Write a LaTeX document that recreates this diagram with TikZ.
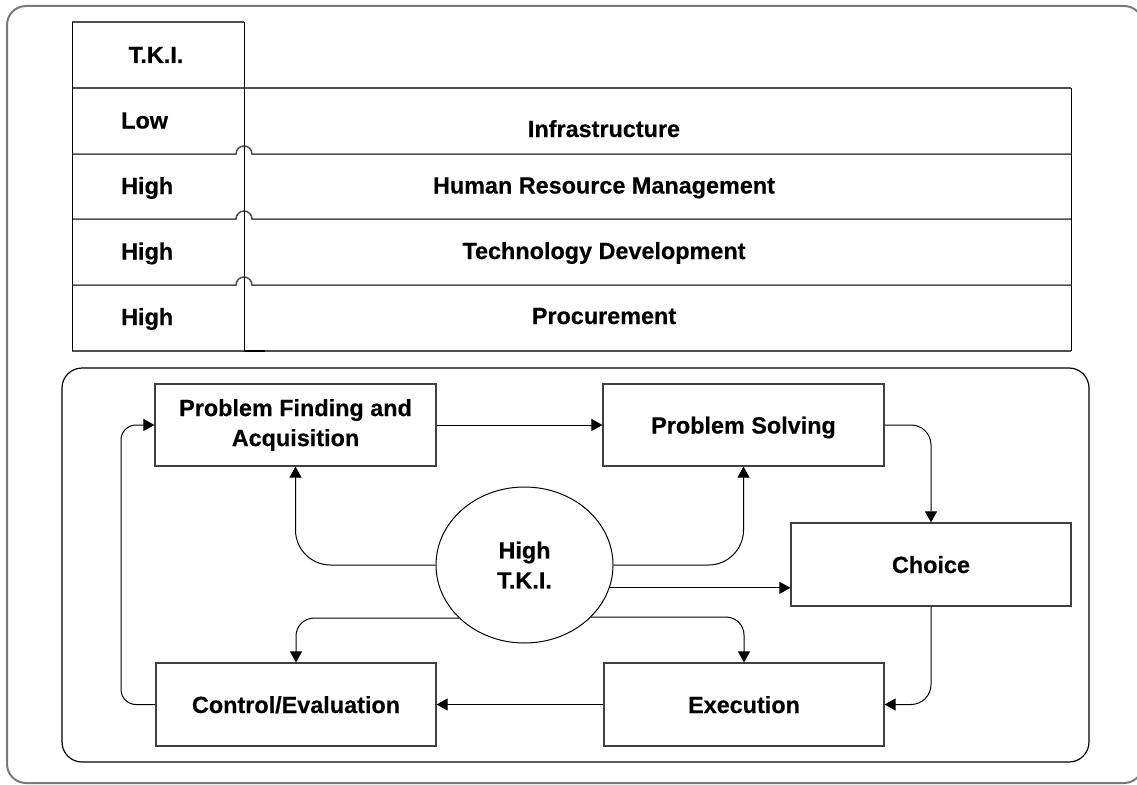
\documentclass[tikz,border=0pt]{standalone}
\usepackage{fontspec}
\setmainfont{Liberation Sans}[BoldFeatures={FakeBold=0.4}]
\usetikzlibrary{arrows.meta,shapes.geometric}
\definecolor{tblline}{HTML}{505050}
\definecolor{boxline}{HTML}{404040}
\definecolor{outerline}{HTML}{7A7A7A}
\begin{document}
\begin{tikzpicture}[x=1pt,y=-1pt,
  every node/.style={font=\bfseries\fontsize{23.4}{30}\selectfont, inner sep=0pt, text=black},
  box/.style={draw=boxline, line width=1.2pt, minimum width=281pt, minimum height=82pt, align=center},
  one/.style={text height=17pt, text depth=0pt},
  hline/.style={draw=tblline, line width=1.5pt},
  vline/.style={draw=black, line width=1pt},
  conn/.style={draw=black, line width=1pt, rounded corners=16pt, -{Triangle[length=11pt,width=12pt]}}]
\useasboundingbox (0,0) rectangle (1137,784);
% outer frame (its right side lies outside the picture)
\begin{scope}
\clip (0,0) rectangle (1137,784);
\draw[draw=outerline, line width=2pt, rounded corners=19pt] (7,6) rectangle (1143,783);
\end{scope}
% table
\draw[hline] (72,22) -- (244,22);
\draw[hline] (72,88) -- (1071,88);
\foreach \yy in {154,219,285}
  \draw[hline] (72,\yy) -- (236,\yy) arc[start angle=180, end angle=0, radius=8pt] -- (1071,\yy);
\draw[hline] (72,351) -- (1071,351);
\draw[vline] (72,22) -- (72,351);
\draw[vline] (244,22) -- (244,351);
\draw[vline] (1071,88) -- (1071,351);
\draw[draw=black, line width=2pt] (244,351) -- (265,351);
\node[anchor=base] (h0) at (156,63) {T.K.I.};
\node[anchor=base west] (h1) at (121,128.5) {Low};
\node[anchor=base west] (h2) at (121,194) {High};
\node[anchor=base west] (h3) at (121,259.5) {High};
\node[anchor=base west] (h4) at (121,325) {High};
\node[anchor=base] (r1) at (604,137) {Infrastructure};
\node[anchor=base] (r2) at (604,193.5) {Human Resource Management};
\node[anchor=base] (r3) at (604,259) {Technology Development};
\node[anchor=base] (r4) at (604,324) {Procurement};
% lower frame
\draw[draw=black, line width=1.2pt, rounded corners=20pt] (62,368) rectangle (1089,762);
\node[box] (pfa) at (295.5,425) {Problem Finding and\\Acquisition};
\node[box,one] (ps) at (743.5,425) {Problem Solving};
\node[box,one,minimum width=280pt,minimum height=83pt] (choice) at (931,564.5) {Choice};
\node[box,one,minimum width=280pt,minimum height=83pt] (exe) at (744,704.5) {Execution};
\node[box,one,minimum width=280pt,minimum height=83pt] (ctrl) at (296,704.5) {Control/Evaluation};
\node[draw=black, line width=1pt, ellipse, minimum width=177pt, minimum height=156pt, align=center, fill=white] (tki) at (524.5,565) {High\\T.K.I.};
\coordinate (lx) at (121,425);
% connectors
\draw[conn] (pfa.east) -- (ps.west);
\draw[conn, rounded corners=20pt] (ps.east) -| (choice.north);
\draw[conn, rounded corners=20pt] (choice.south) |- (exe.east);
\draw[conn] (exe.west) -- (ctrl.east);
\draw[conn, rounded corners=15pt] (ctrl.west) -| (lx) -- (pfa.west);
\draw[conn, rounded corners=35pt] (tki.west) -| (pfa.south);
\draw[conn, rounded corners=35pt] (tki.east) -| (ps.south);
\draw[conn] (tki.-15.9) -- (tki.-15.9 -| choice.west);
\draw[conn, rounded corners=18pt] (tki.-141.7) -| (ctrl.north);
\draw[conn, rounded corners=18pt] (tki.-38.3) -| (exe.north);
\end{tikzpicture}
\end{document}
